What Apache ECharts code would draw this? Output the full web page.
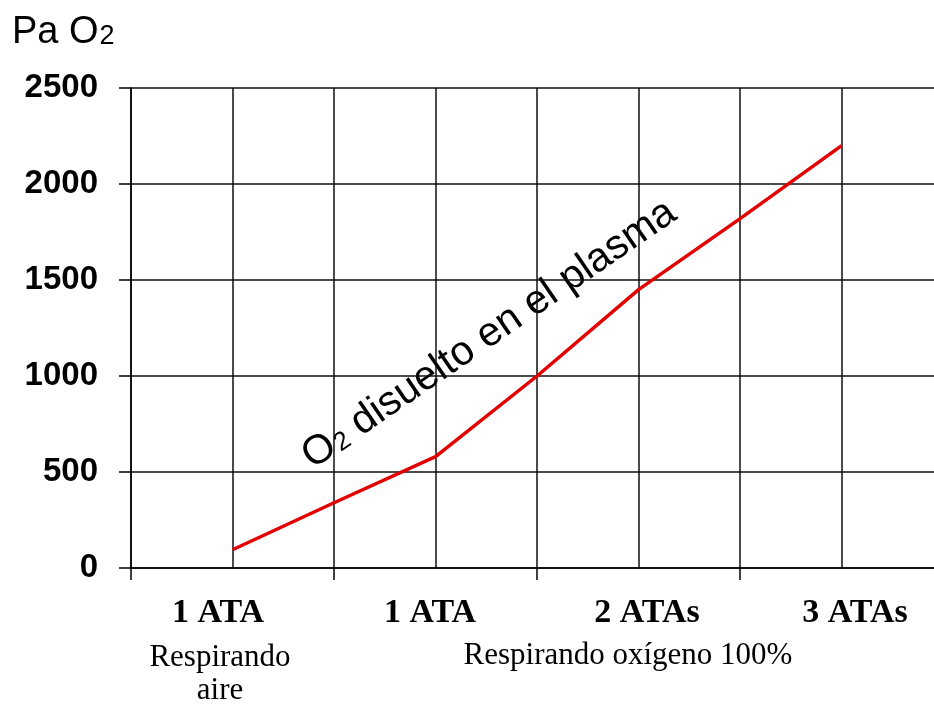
<!DOCTYPE html>
<html>
<head>
<meta charset="utf-8">
<script src="https://cdn.jsdelivr.net/npm/echarts@6/dist/echarts.min.js"></script>
<style>
html,body{margin:0;padding:0;background:#fff;}
#chart{width:934px;height:704px;}
</style>
</head>
<body>
<div id="chart"></div>
<script>
// ---- data ----
const xPositions = [1, 2, 3, 4, 5, 6, 7];
const paO2 = [95, 340, 580, 1000, 1450, 1820, 2200];
const yMin = 0, yMax = 2500, yStep = 500;
const xTickValues = [0, 2, 4, 6];
const pressureLabels = ['1 ATA', '1 ATA', '2 ATAs', '3 ATAs'];
const conditionLabels = ['Respirando\naire', 'Respirando oxígeno 100%'];
const yAxisTitle = ['Pa O', '2'];
const curveLabel = ['O', '2', ' disuelto en el plasma'];

// ---- layout ----
const pressureX = [218, 430, 647, 855];
const conditionX = [220, 628];
const xMax = 7.91;

const chart = echarts.init(document.getElementById('chart'), null, {renderer: 'canvas'});
const black = '#000';
const gridLine = {color: '#111', width: 1.5};

const graphics = [];
pressureLabels.forEach((t, i) => {
  graphics.push({
    type: 'text', x: pressureX[i], y: 613,
    style: {text: t, textAlign: 'center', textVerticalAlign: 'middle',
      font: 'bold 34px "Liberation Serif", "Times New Roman", serif', fill: black}
  });
});
graphics.push({
  type: 'text', x: conditionX[0], y: 656,
  style: {text: conditionLabels[0], textAlign: 'center', textVerticalAlign: 'top',
    font: '31px "Liberation Serif", "Times New Roman", serif', lineHeight: 33, fill: black, y: -15}
});
graphics.push({
  type: 'text', x: conditionX[1], y: 656,
  style: {text: conditionLabels[1], textAlign: 'center', textVerticalAlign: 'middle',
    font: '31px "Liberation Serif", "Times New Roman", serif', fill: black}
});
graphics.push({
  type: 'text', x: 12, y: 52,
  style: {
    text: '{a|' + yAxisTitle[0] + '}{b|' + yAxisTitle[1] + '}',
    textAlign: 'left', textVerticalAlign: 'bottom',
    rich: {
      a: {fontSize: 38, fontFamily: '"Liberation Sans", Arial, sans-serif', color: '#111', verticalAlign: 'bottom', lineHeight: 44},
      b: {fontSize: 27, fontFamily: '"Liberation Sans", Arial, sans-serif', color: '#111', verticalAlign: 'bottom', lineHeight: 44, padding: [0,0,2,1]}
    }
  }
});
graphics.push({
  type: 'text', x: 318, y: 477, rotation: 34.5 * Math.PI / 180,
  style: {
    text: '{a|' + curveLabel[0] + '}{b|' + curveLabel[1] + '}{a|' + curveLabel[2] + '}',
    textAlign: 'left', textVerticalAlign: 'bottom',
    rich: {
      a: {fontSize: 41, fontFamily: '"Liberation Sans", Arial, sans-serif', color: '#111', verticalAlign: 'bottom', lineHeight: 46},
      b: {fontSize: 26, fontFamily: '"Liberation Sans", Arial, sans-serif', color: '#111', verticalAlign: 'bottom', lineHeight: 46, padding: [0,0,2,1]}
    }
  }
});

const option = {
  animation: false,
  backgroundColor: '#fff',
  grid: [
    {left: 131, right: 0, top: 88, bottom: 136},
    {left: 131, right: 0, top: 88, bottom: 136}
  ],
  xAxis: [
    {
      type: 'value', gridIndex: 0, min: 0, max: xMax, interval: 1,
      axisLine: {show: true, onZero: false, lineStyle: {color: black, width: 1.5}},
      axisTick: {show: false},
      axisLabel: {show: false},
      splitLine: {show: true, showMaxLine: false, lineStyle: gridLine}
    },
    {
      type: 'value', gridIndex: 1, min: 0, max: xMax, interval: 2,
      axisLine: {show: false},
      axisTick: {show: true, length: 12, customValues: xTickValues, lineStyle: {color: black, width: 1.5}},
      axisLabel: {show: false},
      splitLine: {show: false}
    }
  ],
  yAxis: [
    {
      type: 'value', gridIndex: 0, min: yMin, max: yMax, interval: yStep,
      axisLine: {show: true, lineStyle: {color: black, width: 1.5}},
      axisTick: {show: true, length: 12, lineStyle: {color: black, width: 1.5}},
      axisLabel: {
        margin: 33, color: black, fontSize: 33, fontWeight: 'bold',
        fontFamily: '"Liberation Sans", Arial, sans-serif',
        formatter: v => String(v)
      },
      splitLine: {show: true, lineStyle: gridLine}
    },
    {
      type: 'value', gridIndex: 1, min: yMin, max: yMax, show: false
    }
  ],
  series: [{
    type: 'line',
    xAxisIndex: 0, yAxisIndex: 0,
    data: xPositions.map((x, i) => [x, paO2[i]]),
    showSymbol: false,
    symbol: 'none',
    lineStyle: {color: '#e30000', width: 3.5},
    z: 5
  }],
  graphic: graphics
};
chart.setOption(option);
</script>
</body>
</html>
